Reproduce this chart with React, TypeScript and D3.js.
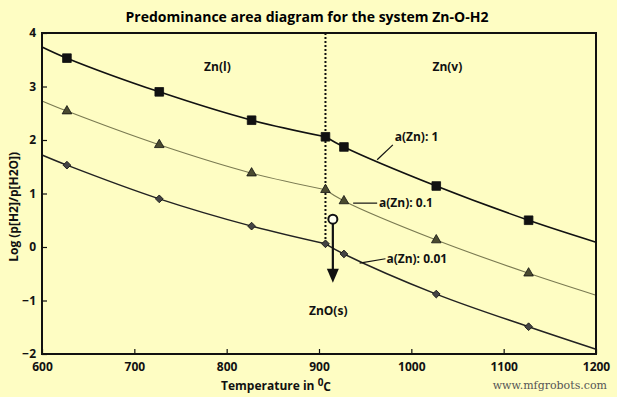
import React, { useEffect, useRef } from 'react';
import * as d3 from 'd3';

// temperatures of the computed points (deg C)
const temps = [627, 727, 827, 907, 927, 1027, 1127];
// log(pH2/pH2O) for each zinc activity
const logZn1 = [3.53, 2.9, 2.37, 2.06, 1.87, 1.14, 0.5];
const logZn01 = [2.54, 1.91, 1.38, 1.07, 0.86, 0.13, -0.49];
const logZn001 = [1.53, 0.9, 0.39, 0.06, -0.13, -0.88, -1.49];
// the fitted curves run on to the axis ends
const endTemps = [600, 1200];
const endZn1 = [3.74, 0.09];
const endZn01 = [2.73, -0.9];
const endZn001 = [1.72, -1.91];

const xTicks = [600, 700, 800, 900, 1000, 1100, 1200];
const yTicks = [-2, -1, 0, 1, 2, 3, 4];
const boilingPoint = 907;

const W = 617, H = 397;
const margin = { top: 33, right: 21, bottom: 43, left: 42 };

const App = () => {
    const ref = useRef<SVGSVGElement>(null);

    useEffect(() => {
        const svg = d3.select(ref.current);
        svg.selectAll('*').remove();

        const x = d3.scaleLinear().domain([600, 1200]).range([margin.left, W - margin.right]);
        const y = d3.scaleLinear().domain([-2, 4]).range([H - margin.bottom, margin.top]);

        svg.append('rect').attr('width', W).attr('height', H).attr('fill', '#fefdc3');

        svg.append('text')
            .attr('x', 307).attr('y', 22)
            .attr('text-anchor', 'middle')
            .attr('font-family', 'Open Sans')
            .attr('font-weight', 'bold')
            .attr('font-size', 14)
            .text('Predominance area diagram for the system Zn-O-H2');

        const series = [
            { vals: logZn1, ends: endZn1, stroke: '#111', width: 1.6, shape: d3.symbolSquare, size: 75, rot: 0, fill: '#111' },
            { vals: logZn01, ends: endZn01, stroke: '#7a7a52', width: 1.1, shape: d3.symbolTriangle, size: 40, rot: 0, fill: '#4a4a30' },
            { vals: logZn001, ends: endZn001, stroke: '#222', width: 1.5, shape: d3.symbolSquare, size: 30, rot: 45, fill: '#444' },
        ];

        const line = d3.line<[number, number]>()
            .curve(d3.curveCatmullRom)
            .x(d => x(d[0]))
            .y(d => y(d[1]));

        // each curve bends at the boiling point, so draw liquid and vapour parts apart
        series.forEach(s => {
            const pts: [number, number][] = [[endTemps[0], s.ends[0]]];
            temps.forEach((t, i) => pts.push([t, s.vals[i]]));
            pts.push([endTemps[1], s.ends[1]]);
            const liquid = pts.filter(p => p[0] <= boilingPoint);
            const vapour = pts.filter(p => p[0] >= boilingPoint);
            [liquid, vapour].forEach(part => {
                svg.append('path')
                    .attr('d', line(part))
                    .attr('fill', 'none')
                    .attr('stroke', s.stroke)
                    .attr('stroke-width', s.width);
            });
        });

        // dotted line at boiling point of zinc
        svg.append('line')
            .attr('x1', x(boilingPoint)).attr('x2', x(boilingPoint))
            .attr('y1', y(4)).attr('y2', y(logZn001[3]))
            .attr('stroke', '#111')
            .attr('stroke-width', 2)
            .attr('stroke-dasharray', '2,2');

        series.forEach(s => {
            svg.append('g').selectAll('path')
                .data(temps)
                .join('path')
                .attr('transform', (t, i) => `translate(${x(t)},${y(s.vals[i])}) rotate(${s.rot})`)
                .attr('d', d3.symbol().type(s.shape).size(s.size)())
                .attr('fill', s.fill)
                .attr('stroke', '#111')
                .attr('stroke-width', 0.8);
        });

        // axes
        const xAxis = svg.append('g')
            .attr('transform', `translate(0,${y(-2)})`)
            .call(d3.axisBottom(x).tickValues(xTicks).tickSizeInner(-5).tickSizeOuter(0).tickPadding(8).tickFormat(d3.format('d')));
        const yAxis = svg.append('g')
            .attr('transform', `translate(${x(600)},0)`)
            .call(d3.axisLeft(y).tickValues(yTicks).tickSizeInner(-5).tickSizeOuter(0).tickPadding(6).tickFormat(d3.format('d')));
        [xAxis, yAxis].forEach(a => {
            a.select('.domain').remove();
            a.selectAll('text')
                .attr('font-family', 'Open Sans')
                .attr('font-weight', 'bold')
                .attr('font-size', 12)
                .attr('fill', '#111');
            a.selectAll('line').attr('stroke', '#111').attr('stroke-width', 1.2);
        });

        svg.append('rect')
            .attr('x', x(600)).attr('y', y(4))
            .attr('width', x(1200) - x(600))
            .attr('height', y(-2) - y(4))
            .attr('fill', 'none')
            .attr('stroke', '#111')
            .attr('stroke-width', 2);

        const bold = (sel: any) => sel
            .attr('font-family', 'Open Sans')
            .attr('font-weight', 'bold')
            .attr('font-size', 12)
            .attr('fill', '#111');

        // phase labels
        const phases = [
            { t: 790, v: 3.36, label: 'Zn(l)' },
            { t: 1039, v: 3.36, label: 'Zn(v)' },
            { t: 910, v: -1.2, label: 'ZnO(s)' },
        ];
        phases.forEach(p => {
            svg.append('text')
                .attr('x', x(p.t)).attr('y', y(p.v))
                .attr('dy', '0.35em')
                .attr('text-anchor', 'middle')
                .call(bold)
                .text(p.label);
        });

        // activity labels with leader lines
        const notes = [
            { t0: 963, v0: 1.63, t1: 980, v1: 1.91, tt: 982, tv: 2.06, label: 'a(Zn): 1' },
            { t0: 937, v0: 0.82, t1: 963, v1: 0.82, tt: 965, tv: 0.82, label: 'a(Zn): 0.1' },
            { t0: 944, v0: -0.3, t1: 972, v1: -0.22, tt: 973, tv: -0.22, label: 'a(Zn): 0.01' },
        ];
        notes.forEach(n => {
            svg.append('line')
                .attr('x1', x(n.t0)).attr('y1', y(n.v0))
                .attr('x2', x(n.t1)).attr('y2', y(n.v1))
                .attr('stroke', '#111').attr('stroke-width', 1.2);
            svg.append('text')
                .attr('x', x(n.tt)).attr('y', y(n.tv))
                .attr('dy', '0.35em')
                .call(bold)
                .text(n.label);
        });

        // arrow from open circle down into ZnO region
        const arrowT = 915, arrowTop = 0.52, arrowTip = -0.67;
        svg.append('line')
            .attr('x1', x(arrowT)).attr('x2', x(arrowT))
            .attr('y1', y(arrowTop) + 4).attr('y2', y(arrowTip) - 12)
            .attr('stroke', '#111').attr('stroke-width', 2.2);
        svg.append('path')
            .attr('d', `M${x(arrowT) - 6},${y(arrowTip) - 14}L${x(arrowT) + 6},${y(arrowTip) - 14}L${x(arrowT)},${y(arrowTip)}Z`)
            .attr('fill', '#111');
        svg.append('circle')
            .attr('cx', x(arrowT)).attr('cy', y(arrowTop))
            .attr('r', 4.5)
            .attr('fill', '#fffff0')
            .attr('stroke', '#111').attr('stroke-width', 2);

        // axis titles
        svg.append('text')
            .attr('transform', `translate(14,${y(0.75)}) rotate(-90)`)
            .attr('text-anchor', 'middle')
            .attr('dy', '0.35em')
            .call(bold)
            .text('Log (p[H2]/p[H2O])');

        const xl = svg.append('text')
            .attr('x', 276).attr('y', 390)
            .attr('text-anchor', 'middle')
            .call(bold);
        xl.append('tspan').text('Temperature in ');
        xl.append('tspan').attr('dy', -4).attr('font-size', 10).text('0');
        xl.append('tspan').attr('dy', 5).text('C');

        svg.append('text')
            .attr('x', 607).attr('y', 389)
            .attr('text-anchor', 'end')
            .attr('font-family', 'DejaVu Serif')
            .attr('font-size', 11)
            .attr('fill', '#555')
            .text('www.mfgrobots.com');
    }, []);

    return <svg ref={ref} width={W} height={H} style={{ position: 'absolute', left: 0, top: 0 }} />;
};

export default App;
